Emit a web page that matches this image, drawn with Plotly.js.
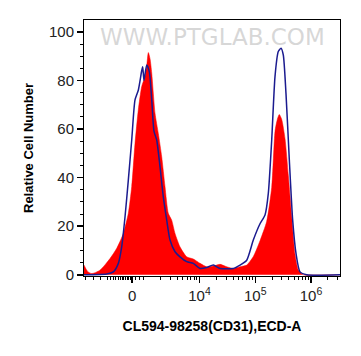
<!DOCTYPE html>
<html>
<head>
<meta charset="utf-8">
<script src="https://cdn.plot.ly/plotly-3.0.1.min.js"></script>
<style>html,body{margin:0;padding:0;background:#fff;}#chart{width:361px;height:356px;}</style>
</head>
<body>
<div id="chart"></div>
<script>
// x positions are in display decades (biexponential axis: 10^4 -> 4, 10^5 -> 5, 10^6 -> 6; "0" -> 2.79)
const stainedX = [1.928,1.988,2.066,2.215,2.395,2.515,2.633,2.723,2.784,2.843,2.902,2.963,3.022,3.053,3.082,3.112,3.143,3.202,3.261,3.322,3.381,3.440,3.501,3.561,3.650,3.770,3.889,4.009,4.129,4.248,4.368,4.488,4.606,4.726,4.847,4.965,5.085,5.205,5.295,5.354,5.396,5.431,5.474,5.534,5.593,5.654,5.713,5.772,5.862,6.52];
const stainedY = [4.0,1.5,0.5,1.9,6.7,10.9,17.0,25.3,36.3,54.1,67.9,77.5,81.6,86,91.5,89,83.0,66.5,58.2,48.6,36.3,25.3,22.5,17.0,11.5,7.4,6.5,4.7,3.3,3.6,4.3,3.3,2.6,3.3,4.0,7.5,14,22,36,59,64,66,64,56,41,24,8.5,2,0,0];
const refX = [1.928,2.335,2.454,2.544,2.604,2.664,2.723,2.784,2.843,2.902,2.963,2.981,3.004,3.053,3.100,3.143,3.184,3.232,3.291,3.351,3.412,3.471,3.561,3.650,3.770,3.889,4.009,4.129,4.248,4.368,4.606,4.726,4.847,4.965,5.085,5.175,5.234,5.295,5.354,5.413,5.462,5.503,5.551,5.611,5.671,5.731,5.803,5.923,6.52];
const refY = [0,0.3,1.2,4.7,11.5,23.9,39,55.5,72,76,84,85.7,80,86.4,83.6,72,59,55.5,44.5,32,22.5,14.3,9.5,7.4,5.4,4.7,2.6,3.0,4.0,2.6,2.6,4,6,14.3,21,24.6,33.5,55.5,81.6,91.9,93.3,90.5,74.7,47.3,22.5,8.8,1.2,0,0];
const xTickVals = [2.79,4,5,6];
const xTickText = ['0','10<sup>4</sup>','10<sup>5</sup>','10<sup>6</sup>'];
const yTickVals = [0,20,40,60,80,100];
const xMinor = [1.96,2.09,2.23,2.35,2.40,2.45,2.50,2.55,2.58,2.61,2.64,2.67,2.70,2.73,2.76,2.85,2.93,3.0,3.301,3.477,3.602,3.699,3.778,3.845,3.903,3.954,4.301,4.477,4.602,4.699,4.778,4.845,4.903,4.954,5.301,5.477,5.602,5.699,5.778,5.845,5.903,5.954,6.301,6.477];

const traces = [
  {x: stainedX, y: stainedY, type:'scatter', mode:'lines', fill:'tozeroy',
   fillcolor:'#ff0000', line:{color:'#ff0000', width:0.5, shape:'spline', smoothing:0.6}, hoverinfo:'skip'},
  {x: refX, y: refY, type:'scatter', mode:'lines',
   line:{color:'#1b1b8f', width:1.5, shape:'spline', smoothing:0.6}, hoverinfo:'skip'}
];
const layout = {
  width:361, height:356,
  margin:{l:84, r:21, t:20, b:80},
  paper_bgcolor:'#fff', plot_bgcolor:'#fff',
  showlegend:false,
  font:{family:'Liberation Sans, Arial, sans-serif', color:'#222', size:15},
  xaxis:{range:[1.928,6.52], showgrid:false, zeroline:false,
    showline:true, mirror:true, linecolor:'#000', linewidth:1,
    tickmode:'array', tickvals:xTickVals, ticktext:xTickText,
    ticks:'outside', ticklen:6, tickwidth:1.5, tickcolor:'#000',
    minor:{tickmode:'array', tickvals:xMinor, ticks:'outside', ticklen:3, tickwidth:1, tickcolor:'#000', showgrid:false},
    tickfont:{size:15, color:'#222'},
    title:{text:'<b>CL594-98258(CD31),ECD-A</b>', font:{size:14, color:'#000'}, standoff:18}},
  yaxis:{range:[-0.5,104.9], showgrid:false, zeroline:false,
    showline:true, mirror:true, linecolor:'#000', linewidth:1,
    tickmode:'array', tickvals:yTickVals,
    ticks:'outside', ticklen:6, tickwidth:1.5, tickcolor:'#000',
    minor:{dtick:5, ticks:'outside', ticklen:3, tickwidth:1, tickcolor:'#000', showgrid:false},
    tickfont:{size:15, color:'#222'},
    title:{text:'<b>Relative Cell Number</b>', font:{size:13, color:'#000'}, standoff:12}},
  annotations:[{text:'WWW.PTGLAB.COM', xref:'paper', yref:'paper', x:0.5, y:0.935,
    showarrow:false, xanchor:'center', yanchor:'middle',
    font:{family:'DejaVu Sans, sans-serif', size:23, color:'rgba(175,175,175,0.5)'}}]
};
Plotly.newPlot('chart', traces, layout, {staticPlot:true, displayModeBar:false});
</script>
</body>
</html>
